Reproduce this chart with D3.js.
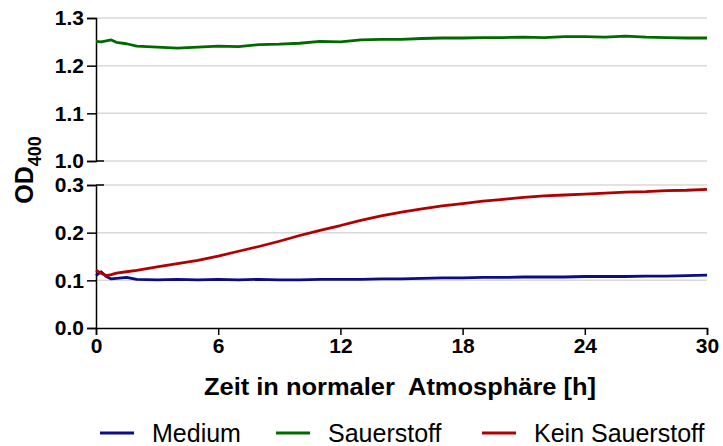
<!DOCTYPE html>
<html>
<head>
<meta charset="utf-8">
<script src="https://cdn.jsdelivr.net/npm/d3@7"></script>
<style>
  body { margin: 0; background: #fff; }
  text { font-family: "Liberation Sans", Arial, sans-serif; }
</style>
</head>
<body>
<svg width="723" height="446"></svg>
<script>
const hours = [0, 0.25, 0.5, 0.75, 1, 1.5, 2, 3, 4, 5, 6, 7, 8, 9, 10, 11, 12, 13, 14, 15,
  16, 17, 18, 19, 20, 21, 22, 23, 24, 25, 26, 27, 28, 29, 30];
const medium = [0.110, 0.118, 0.108, 0.103, 0.104, 0.106, 0.102, 0.101, 0.102, 0.101, 0.102, 0.101,
  0.102, 0.101, 0.101, 0.102, 0.102, 0.102, 0.103, 0.103, 0.104, 0.105, 0.105, 0.106, 0.106,
  0.107, 0.107, 0.107, 0.108, 0.108, 0.108, 0.109, 0.109, 0.110, 0.111];
const sauerstoff = [1.251, 1.250, 1.252, 1.254, 1.249, 1.246, 1.241, 1.239, 1.237, 1.239, 1.241,
  1.240, 1.244, 1.245, 1.247, 1.251, 1.250, 1.254, 1.255, 1.255, 1.257, 1.258, 1.258, 1.259,
  1.259, 1.260, 1.259, 1.261, 1.261, 1.260, 1.262, 1.260, 1.259, 1.258, 1.258];
const keinSauerstoff = [0.121, 0.115, 0.110, 0.112, 0.115, 0.118, 0.121, 0.128, 0.135, 0.142,
  0.151, 0.161, 0.171, 0.182, 0.194, 0.205, 0.215, 0.226, 0.235, 0.243, 0.250, 0.256, 0.261,
  0.266, 0.270, 0.274, 0.277, 0.279, 0.281, 0.283, 0.285, 0.286, 0.288, 0.289, 0.291];
const xTicks = [0, 6, 12, 18, 24, 30];
const upperTicks = [1.0, 1.1, 1.2, 1.3];
const lowerTicks = [0.0, 0.1, 0.2, 0.3];

const series = [
  {name: "Medium", values: medium, color: "#0c0c8a", panel: "lower"},
  {name: "Sauerstoff", values: sauerstoff, color: "#006a00", panel: "upper"},
  {name: "Kein Sauerstoff", values: keinSauerstoff, color: "#b00000", panel: "lower"}
];

const svg = d3.select("svg");
const x = d3.scaleLinear().domain([0, 30]).range([96, 707]);
const yUpper = d3.scaleLinear().domain([1.0, 1.3]).range([161, 18]);
const yLower = d3.scaleLinear().domain([0.0, 0.3]).range([328, 185]);

// gridlines
function grid(scale, ticks, skipFirst) {
  svg.append("g").selectAll("line")
    .data(skipFirst ? ticks.slice(1) : ticks)
    .enter().append("line")
    .attr("x1", 96).attr("x2", 707)
    .attr("y1", d => scale(d)).attr("y2", d => scale(d))
    .attr("stroke", "#d9d9d9").attr("stroke-width", 1.5);
}
grid(yUpper, upperTicks, false);
grid(yLower, lowerTicks, true);

// y axes
function yAxis(scale, ticks) {
  const g = svg.append("g").attr("transform", "translate(96,0)")
    .call(d3.axisLeft(scale).tickValues(ticks)
      .tickFormat(d3.format(".1f")).tickSize(9).tickPadding(3));
  g.select(".domain").attr("stroke-width", 1.5);
  g.selectAll(".tick line").attr("stroke-width", 1.5);
  g.selectAll("text").attr("font-size", 21).attr("font-weight", "bold").attr("fill", "#000");
  return g;
}
yAxis(yUpper, upperTicks);
yAxis(yLower, lowerTicks);
// break marks extending right of axis
svg.append("g").selectAll("line")
  .data([yUpper(1.0), yLower(0.3)])
  .enter().append("line")
  .attr("x1", 96).attr("x2", 104)
  .attr("y1", d => d).attr("y2", d => d)
  .attr("stroke", "#000").attr("stroke-width", 1.5);

// x axis
const xg = svg.append("g").attr("transform", "translate(0,328)")
  .call(d3.axisBottom(x).tickValues(xTicks).tickSize(7).tickPadding(3));
xg.select(".domain").attr("stroke-width", 1.5);
xg.selectAll(".tick line").attr("stroke-width", 1.5);
xg.selectAll("text").attr("font-size", 21).attr("font-weight", "bold").attr("fill", "#000");

// lines
series.forEach(s => {
  const yS = s.panel === "upper" ? yUpper : yLower;
  const line = d3.line().x((d, i) => x(hours[i])).y(d => yS(d));
  svg.append("path").datum(s.values)
    .attr("d", line)
    .attr("fill", "none")
    .attr("stroke", s.color)
    .attr("stroke-width", 2.8)
    .attr("stroke-linejoin", "round");
});

// axis titles
svg.append("text")
  .attr("x", 400).attr("y", 395)
  .attr("text-anchor", "middle")
  .attr("font-size", 23).attr("font-weight", "bold").attr("fill", "#000")
  .attr("textLength", 392).attr("lengthAdjust", "spacingAndGlyphs")
  .attr("xml:space", "preserve")
  .text("Zeit in normaler  Atmosphäre [h]");

const yt = svg.append("text")
  .attr("transform", "translate(33,170) rotate(-90)")
  .attr("text-anchor", "middle")
  .attr("font-size", 25).attr("font-weight", "bold").attr("fill", "#000");
yt.append("tspan").text("OD");
yt.append("tspan").attr("font-size", 18).attr("dy", 8).text("400");

// legend
const legendX = [100, 276, 482];
const lg = svg.append("g").selectAll("g")
  .data(series).enter().append("g")
  .attr("transform", (d, i) => `translate(${legendX[i]},433)`);
lg.append("line").attr("x1", 0).attr("x2", 34)
  .attr("stroke", d => d.color).attr("stroke-width", 3);
lg.append("text").attr("x", 52).attr("y", 8.5)
  .attr("font-size", 25).attr("fill", "#000")
  .text(d => d.name);
</script>
</body>
</html>
